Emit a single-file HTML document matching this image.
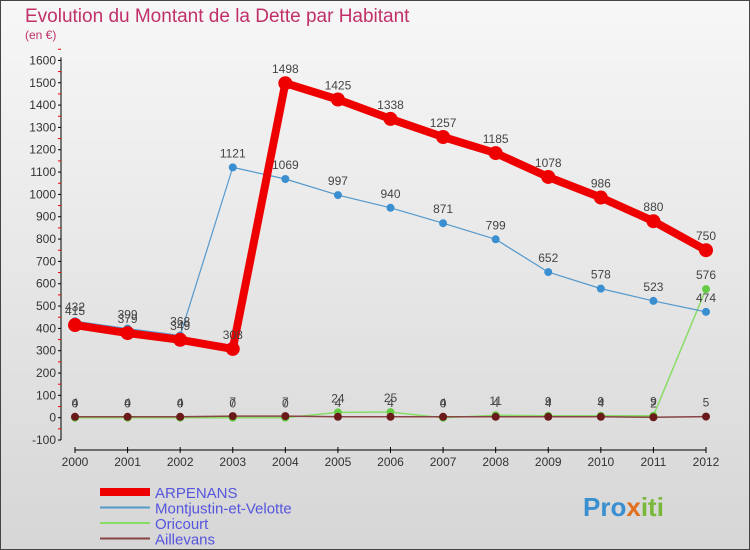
<!DOCTYPE html>
<html><head><meta charset="utf-8"><style>
body{margin:0;width:750px;height:550px;overflow:hidden;font-family:"Liberation Sans",sans-serif}
#c{position:absolute;left:0;top:0}
</style></head><body>
<svg id="c" width="750" height="550">
<defs><linearGradient id="bg" x1="0" y1="0" x2="0" y2="1"><stop offset="0" stop-color="#f7f7f7"/><stop offset="1" stop-color="#d6d6d6"/></linearGradient></defs>
<rect x="0.5" y="0.5" width="749" height="549" fill="url(#bg)" stroke="#444"/>
<text x="25" y="22" font-size="19" fill="#c0306a">Evolution du Montant de la Dette par Habitant</text>
<text x="25" y="39" font-size="12" fill="#c0306a">(en €)</text>
<g id="axes"></g><g id="series"></g><g id="legend"></g>
<text x="583" y="516" font-size="26" font-weight="bold" fill="#3a8fd0">Pro<tspan fill="#e07020">x</tspan><tspan fill="#7ab83a">iti</tspan></text>
</svg>
<script>
const years=[2000,2001,2002,2003,2004,2005,2006,2007,2008,2009,2010,2011,2012];
const arpenans=[415,379,349,308,1498,1425,1338,1257,1185,1078,986,880,750];
const montjustin=[432,399,368,1121,1069,997,940,871,799,652,578,523,474];
const oricourt=[0,0,0,0,0,24,25,0,11,9,9,9,576];
const aillevans=[4,4,4,7,7,4,4,4,4,4,4,2,5];
const yTicks=[-100,0,100,200,300,400,500,600,700,800,900,1000,1100,1200,1300,1400,1500,1600];
const NS="http://www.w3.org/2000/svg";
const X=i=>75+i*(706-75)/12;
const Y=v=>417.7-v*0.2233;
function mk(t,a,p){const e=document.createElementNS(NS,t);for(const k in a)e.setAttribute(k,a[k]);p.appendChild(e);return e;}
const ax=document.getElementById('axes');
const yl=mk('line',{x1:61,y1:Y(1600)-3,x2:61,y2:Y(-100),stroke:'#000'},ax);


const xl=mk('line',{x1:X(0),y1:450,x2:X(12),y2:450,stroke:'#000'},ax);


yTicks.forEach(v=>{
 mk('line',{x1:58,x2:61,y1:Y(v),y2:Y(v),stroke:'#000'},ax);
 mk('line',{x1:58,x2:61,y1:Y(v+50),y2:Y(v+50),stroke:'#e00'},ax);
 const t=mk('text',{x:56,y:Y(v)+4,'font-size':12,fill:'#333','text-anchor':'end'},ax);t.textContent=v;
 
 
});
years.forEach((y,i)=>{
 mk('line',{x1:X(i),x2:X(i),y1:447,y2:453,stroke:'#000'},ax);
 const t=mk('text',{x:X(i),y:466,'font-size':12,fill:'#333','text-anchor':'middle'},ax);t.textContent=y;
 
 
});
const sg=document.getElementById('series');
function series(d,col,w,r,name,ptcol){
 const g=mk('g',{},sg);
 
 
 mk('polyline',{points:d.map((v,i)=>X(i)+','+Y(v)).join(' '),fill:'none',stroke:col,'stroke-width':w,'stroke-linejoin':'round'},g);
 d.forEach((v,i)=>{
  const c=mk('circle',{cx:X(i),cy:Y(v),r:r,fill:ptcol||col},g);
  
  
  const t=mk('text',{x:X(i),y:Y(v)-10,'font-size':12,fill:'#444','text-anchor':'middle'},g);t.textContent=v;
 });
}
series(oricourt,'#88dd66',1.5,4,'oricourt','#66cc44');
series(aillevans,'#884444',1.5,4,'aillevans','#6a1a1a');
series(montjustin,'#5599cc',1.2,4,'montjustin','#3a8fd0');
series(arpenans,'#ee0000',8,7,'arpenans');
const lg=document.getElementById('legend');
[['ARPENANS','#ee0000',8],['Montjustin-et-Velotte','#5599cc',2],['Oricourt','#88dd66',2],['Aillevans','#884444',2]].forEach((s,i)=>{
 const y=492+i*15.5;
 const g=mk('g',{},lg);
 
 
 mk('line',{x1:100,x2:150,y1:y,y2:y,stroke:s[1],'stroke-width':s[2]},g);
 const t=mk('text',{x:155,y:y+6,'font-size':15,fill:'#5555dd'},g);t.textContent=s[0];
});
</script>
</body></html>
